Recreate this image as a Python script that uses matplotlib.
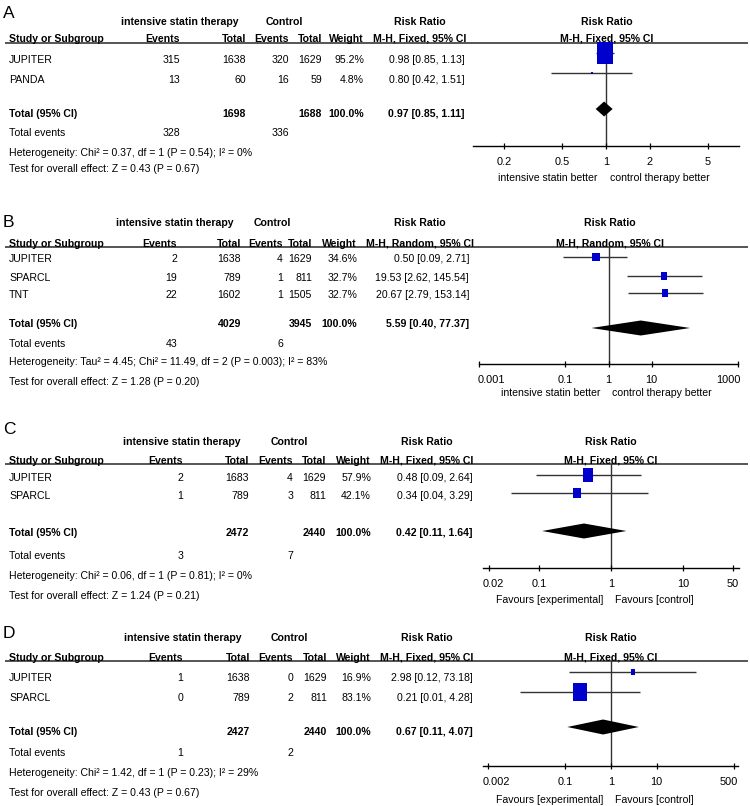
import matplotlib
matplotlib.use("Agg")
import matplotlib.pyplot as plt
import numpy as np
from matplotlib.path import Path
from matplotlib.transforms import ScaledTranslation
from matplotlib.ticker import NullLocator, FixedLocator, FixedFormatter

# ------------------------------------------------------------------ data
A_studies = ["JUPITER", "PANDA"]
A_exp_events = [315, 13]
A_exp_total = [1638, 60]
A_ctl_events = [320, 16]
A_ctl_total = [1629, 59]
A_weight = [95.2, 4.8]
A_rr = [0.98, 0.80]
A_lo = [0.85, 0.42]
A_hi = [1.13, 1.51]
A_tot_n = [1698, 1688]
A_tot_events = [328, 336]
A_tot_rr = [0.97, 0.85, 1.11]
A_method = "M-H, Fixed, 95% CI"
A_het = "Heterogeneity: Chi² = 0.37, df = 1 (P = 0.54); I² = 0%"
A_test = "Test for overall effect: Z = 0.43 (P = 0.67)"
A_ticks = [0.2, 0.5, 1, 2, 5]
A_ticklabels = ["0.2", "0.5", "1", "2", "5"]
A_favours = ["intensive statin better", "control therapy better"]

B_studies = ["JUPITER", "SPARCL", "TNT"]
B_exp_events = [2, 19, 22]
B_exp_total = [1638, 789, 1602]
B_ctl_events = [4, 1, 1]
B_ctl_total = [1629, 811, 1505]
B_weight = [34.6, 32.7, 32.7]
B_rr = [0.50, 19.53, 20.67]
B_lo = [0.09, 2.62, 2.79]
B_hi = [2.71, 145.54, 153.14]
B_tot_n = [4029, 3945]
B_tot_events = [43, 6]
B_tot_rr = [5.59, 0.40, 77.37]
B_method = "M-H, Random, 95% CI"
B_het = "Heterogeneity: Tau² = 4.45; Chi² = 11.49, df = 2 (P = 0.003); I² = 83%"
B_test = "Test for overall effect: Z = 1.28 (P = 0.20)"
B_ticks = [0.001, 0.1, 1, 10, 1000]
B_ticklabels = ["0.001", "0.1", "1", "10", "1000"]
B_favours = ["intensive statin better", "control therapy better"]

C_studies = ["JUPITER", "SPARCL"]
C_exp_events = [2, 1]
C_exp_total = [1683, 789]
C_ctl_events = [4, 3]
C_ctl_total = [1629, 811]
C_weight = [57.9, 42.1]
C_rr = [0.48, 0.34]
C_lo = [0.09, 0.04]
C_hi = [2.64, 3.29]
C_tot_n = [2472, 2440]
C_tot_events = [3, 7]
C_tot_rr = [0.42, 0.11, 1.64]
C_method = "M-H, Fixed, 95% CI"
C_het = "Heterogeneity: Chi² = 0.06, df = 1 (P = 0.81); I² = 0%"
C_test = "Test for overall effect: Z = 1.24 (P = 0.21)"
C_ticks = [0.02, 0.1, 1, 10, 50]
C_ticklabels = ["0.02", "0.1", "1", "10", "50"]
C_favours = ["Favours [experimental]", "Favours [control]"]

D_studies = ["JUPITER", "SPARCL"]
D_exp_events = [1, 0]
D_exp_total = [1638, 789]
D_ctl_events = [0, 2]
D_ctl_total = [1629, 811]
D_weight = [16.9, 83.1]
D_rr = [2.98, 0.21]
D_lo = [0.12, 0.01]
D_hi = [73.18, 4.28]
D_tot_n = [2427, 2440]
D_tot_events = [1, 2]
D_tot_rr = [0.67, 0.11, 4.07]
D_method = "M-H, Fixed, 95% CI"
D_het = "Heterogeneity: Chi² = 1.42, df = 1 (P = 0.23); I² = 29%"
D_test = "Test for overall effect: Z = 0.43 (P = 0.67)"
D_ticks = [0.002, 0.1, 1, 10, 500]
D_ticklabels = ["0.002", "0.1", "1", "10", "500"]
D_favours = ["Favours [experimental]", "Favours [control]"]

# ------------------------------------------------------------------ layout (pixels)
W, H, DPI = 750, 806, 100
LA = dict(lab=12, grp=21, hdr=38, line=43, rows=[59, 79], tot=113, tev=132, het=152, test=168,
          cols=[180, 246, 289, 322, 364], rr_right=465, rr_c=420, grp_c=180, ctl_c=284, f_c=607,
          ax_l=473, ax_r=739, axis=146, tick_px=(504, 708), fdy=-6, tdy=-4, fav=177,
          tl_shift=[0, 0, 0, 0, 0])
LB = dict(lab=221, grp=222, hdr=243, line=247, rows=[258, 277, 294], tot=323, tev=343, het=361, test=381,
          cols=[177, 241, 283, 312, 357], rr_right=469, rr_c=420, grp_c=175, ctl_c=272, f_c=610,
          ax_l=479, ax_r=738, axis=364, tick_px=(479, 738), fdy=-1, tdy=5, fav=392,
          tl_shift=[12, 0, 0, 0, -10])
LC = dict(lab=428, grp=441, hdr=460, line=464, rows=[477, 495], tot=532, tev=555, het=575, test=595,
          cols=[183, 249, 293, 326, 371], rr_right=473, rr_c=427, grp_c=182, ctl_c=289, f_c=611,
          ax_l=483, ax_r=739, axis=568, tick_px=(489, 733), fdy=-2, tdy=-1, fav=599,
          tl_shift=[4, 0, 0, 0, 0])
LD = dict(lab=632, grp=637, hdr=657, line=661, rows=[677, 697], tot=731, tev=752, het=772, test=792,
          cols=[183, 250, 293, 327, 371], rr_right=473, rr_c=427, grp_c=183, ctl_c=289, f_c=611,
          ax_l=483, ax_r=738, axis=766, tick_px=(488, 734), fdy=-5, tdy=-4, fav=799,
          tl_shift=[8, 0, 0, 0, -5])

FONT = ['Liberation Sans Narrow', 'Liberation Sans', 'DejaVu Sans']
LETTER_FONT = ['Liberation Sans', 'DejaVu Sans']
FS = 7.6
SQ_COLOR = '#0000CC'
LINE_COLOR = '#555555'

fig = plt.figure(figsize=(W / DPI, H / DPI), dpi=DPI)
bg = fig.add_axes([0, 0, 1, 1])
bg.set_xlim(0, W)
bg.set_ylim(H, 0)
bg.axis('off')


def T(x, y, s, ha='left', bold=False, size=FS, family=FONT):
    cap = 0.716 * size * DPI / 72
    bg.text(x, y + cap / 2, s, ha=ha, va='baseline', fontsize=size,
            fontweight='bold' if bold else 'normal', family=family, color='black')


rect_marker = Path([(-0.4, -0.5), (0.4, -0.5), (0.4, 0.5), (-0.4, 0.5), (-0.4, -0.5)],
                   [Path.MOVETO, Path.LINETO, Path.LINETO, Path.LINETO, Path.CLOSEPOLY])


def fmt_rr(r, lo, hi):
    return f"{r:.2f} [{lo:.2f}, {hi:.2f}]"


def panel(letter, L, studies, ee, et, ce, ct, wt, rr, lo, hi, tot_n, tot_ev, tot_rr,
          method, het, test, ticks, ticklabels, favours):
    c = L['cols']
    T(3, L['lab'], letter, size=12.5, family=LETTER_FONT)
    # group headers
    T(L['grp_c'], L['grp'], "intensive statin therapy", ha='center', bold=True)
    T(L['ctl_c'], L['grp'], "Control", ha='center', bold=True)
    T(L['rr_c'], L['grp'], "Risk Ratio", ha='center', bold=True)
    T(L['f_c'], L['grp'], "Risk Ratio", ha='center', bold=True)
    # column headers
    T(9, L['hdr'], "Study or Subgroup", bold=True)
    for x, s in zip(c, ["Events", "Total", "Events", "Total", "Weight"]):
        T(x, L['hdr'], s, ha='right', bold=True)
    T(L['rr_c'], L['hdr'], method, ha='center', bold=True)
    T(L['f_c'], L['hdr'], method, ha='center', bold=True)
    bg.plot([5, 748], [L['line'], L['line']], color=LINE_COLOR, lw=1.4, solid_capstyle='butt')
    # study rows
    for i, s in enumerate(studies):
        y = L['rows'][i]
        T(9, y, s)
        for x, v in zip(c, [ee[i], et[i], ce[i], ct[i]]):
            T(x, y, str(v), ha='right')
        T(c[4], y, f"{wt[i]:.1f}%", ha='right')
        T(L['rr_right'], y, fmt_rr(rr[i], lo[i], hi[i]), ha='right')
    # totals
    y = L['tot']
    T(9, y, "Total (95% CI)", bold=True)
    T(c[1], y, str(tot_n[0]), ha='right', bold=True)
    T(c[3], y, str(tot_n[1]), ha='right', bold=True)
    T(c[4], y, f"{sum(wt):.1f}%", ha='right', bold=True)
    T(L['rr_right'], y, fmt_rr(*tot_rr), ha='right', bold=True)
    y = L['tev']
    T(9, y, "Total events")
    T(c[0], y, str(tot_ev[0]), ha='right')
    T(c[2], y, str(tot_ev[1]), ha='right')
    T(9, L['het'], het)
    T(9, L['test'], test)

    # forest axes
    axl, axr, ay, ly = L['ax_l'], L['ax_r'], L['axis'], L['line']
    ax = fig.add_axes([axl / W, 1 - ay / H, (axr - axl) / W, (ay - ly) / H])
    ax.patch.set_visible(False)
    p0, p1 = L['tick_px']
    l0, l1 = np.log10(ticks[0]), np.log10(ticks[-1])
    dp = (p1 - p0) / (l1 - l0)
    ax.set_xscale('log')
    ax.set_xlim(10 ** (l0 - (p0 - axl) / dp), 10 ** (l1 + (axr - p1) / dp))
    ax.set_ylim(ay, ly)
    for sp in ['top', 'left', 'right']:
        ax.spines[sp].set_visible(False)
    ax.spines['bottom'].set_linewidth(1.0)
    ax.xaxis.set_major_locator(FixedLocator(ticks))
    ax.xaxis.set_major_formatter(FixedFormatter(ticklabels))
    ax.xaxis.set_minor_locator(NullLocator())
    ax.set_yticks([])
    ax.tick_params(axis='x', direction='inout', length=5, width=0.9, pad=5.5,
                   labelsize=FS + 0.3)
    for lab, dx in zip(ax.get_xticklabels(), L['tl_shift']):
        lab.set_family(FONT)
        lab.set_transform(lab.get_transform() + ScaledTranslation(dx / DPI, 0, fig.dpi_scale_trans))
    ax.axvline(1, color='#333333', lw=1.0, zorder=1)
    for i in range(len(studies)):
        y = L['rows'][i] + L['fdy']
        ax.hlines(y, lo[i], hi[i], color='#333333', lw=1.0, zorder=2)
        hpt = (2 + 0.2 * wt[i]) * 72 / DPI
        ax.scatter([rr[i]], [y], marker=rect_marker, s=hpt ** 2, color=SQ_COLOR,
                   linewidths=0, zorder=3, clip_on=False)
    r, l, h = tot_rr
    yd = L['tot'] + L['tdy']
    hh = 7.5
    ax.fill([l, r, h, r], [yd, yd - hh, yd, yd + hh], color='black', lw=0, zorder=3)
    cap = 0.716 * FS * DPI / 72
    off = -(L['fav'] + cap / 2 - ay)
    ax.annotate(favours[0], xy=(1, 0), xycoords=('data', 'axes fraction'),
                xytext=(-8, off), textcoords='offset pixels', ha='right', va='baseline',
                fontsize=FS, family=FONT)
    ax.annotate(favours[1], xy=(1, 0), xycoords=('data', 'axes fraction'),
                xytext=(4, off), textcoords='offset pixels', ha='left', va='baseline',
                fontsize=FS, family=FONT)


panel("A", LA, A_studies, A_exp_events, A_exp_total, A_ctl_events, A_ctl_total, A_weight,
      A_rr, A_lo, A_hi, A_tot_n, A_tot_events, A_tot_rr, A_method, A_het, A_test,
      A_ticks, A_ticklabels, A_favours)
panel("B", LB, B_studies, B_exp_events, B_exp_total, B_ctl_events, B_ctl_total, B_weight,
      B_rr, B_lo, B_hi, B_tot_n, B_tot_events, B_tot_rr, B_method, B_het, B_test,
      B_ticks, B_ticklabels, B_favours)
panel("C", LC, C_studies, C_exp_events, C_exp_total, C_ctl_events, C_ctl_total, C_weight,
      C_rr, C_lo, C_hi, C_tot_n, C_tot_events, C_tot_rr, C_method, C_het, C_test,
      C_ticks, C_ticklabels, C_favours)
panel("D", LD, D_studies, D_exp_events, D_exp_total, D_ctl_events, D_ctl_total, D_weight,
      D_rr, D_lo, D_hi, D_tot_n, D_tot_events, D_tot_rr, D_method, D_het, D_test,
      D_ticks, D_ticklabels, D_favours)

fig.savefig("out.png", dpi=DPI, facecolor='white')
